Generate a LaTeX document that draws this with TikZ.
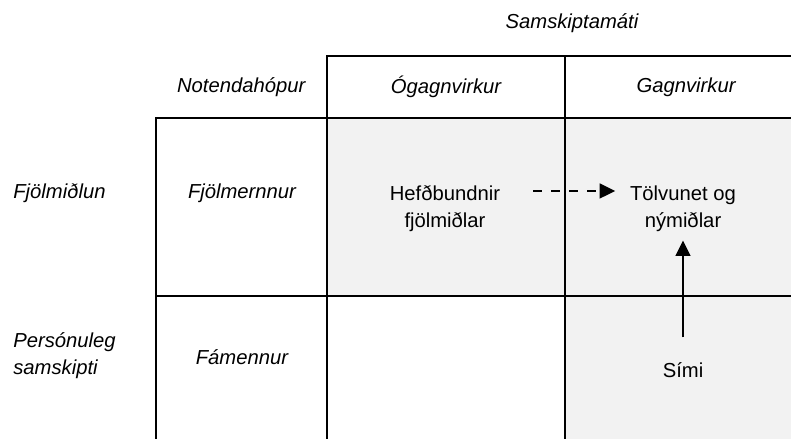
\documentclass[tikz,border=0pt]{standalone}
\usepackage{fontspec}
\setmainfont{Liberation Sans}
\usepackage{tikz}
\usetikzlibrary{positioning,arrows.meta,calc}

\newcommand{\texto}{\fontsize{14.4}{19.2}\selectfont}

\tikzset{
    grade/.style={line width=1.42pt},
    rotulo/.style={font=\texto\itshape, inner sep=0pt},
    celula/.style={font=\texto, align=center},
    seta/.style={line width=1.42pt, -{Triangle[length=11pt,width=10.5pt]}},
}

\begin{document}
\begin{tikzpicture}
        \useasboundingbox (0, 0) rectangle (19.775, 10.975);

        % Fundo cinza
        \fill[gray!10] (8.175, 3.58) rectangle (19.775, 8.03);
        \fill[gray!10] (14.125, 0) rectangle (19.775, 3.58);

        % Grade
        \draw[grade] (8.175, 0) -- (8.175, 9.58) -- (19.775, 9.58);
        \draw[grade] (14.125, 0) -- (14.125, 9.58);
        \draw[grade] (3.9, 0) -- (3.9, 8.03) -- (19.775, 8.03);
        \draw[grade] (3.9, 3.58) -- (19.775, 3.58);

        % Cabeçalhos
        \node[rotulo] (samskipti) at (14.3, 10.4) {Samskiptamáti};
        \node[rotulo] (notendur) at (6.03, 8.8) {Notendahópur};
        \node[rotulo] (ogagnvirkur) at (11.15, 8.8) {Ógagnvirkur};
        \node[rotulo] (gagnvirkur) at (17.15, 8.8) {Gagnvirkur};

        % Linhas
        \node[rotulo, anchor=west] (fjolmidlun) at (0.325, 6.15) {Fjölmiðlun};
        \node[rotulo] (fjolmennur) at (6.05, 6.15) {Fjölmernnur};
        \node[rotulo, anchor=west, align=left] (personuleg) at (0.325, 2.09) {Persónuleg\\samskipti};
        \node[rotulo] (famennur) at (6.05, 2.05) {Fámennur};

        % Células
        \node[celula] (hefd) at (11.125, 5.76) {Hefðbundnir\\fjölmiðlar};
        \node[celula] (tolva) at (17.075, 5.76) {Tölvunet og\\nýmiðlar};
        \node[celula] (simi) at (17.075, 1.725) {Sími};

        % Setas
        \draw[seta, dash pattern=on 6.4pt off 6.4pt, shorten <=0.7cm, shorten >=0.25cm]
            ([yshift=0.44cm]hefd.east) -- ([yshift=0.44cm]tolva.west);
        \draw[seta, shorten <=0.5cm, shorten >=0.1cm] (simi.north) -- (tolva.south);
    \end{tikzpicture}
\end{document}
